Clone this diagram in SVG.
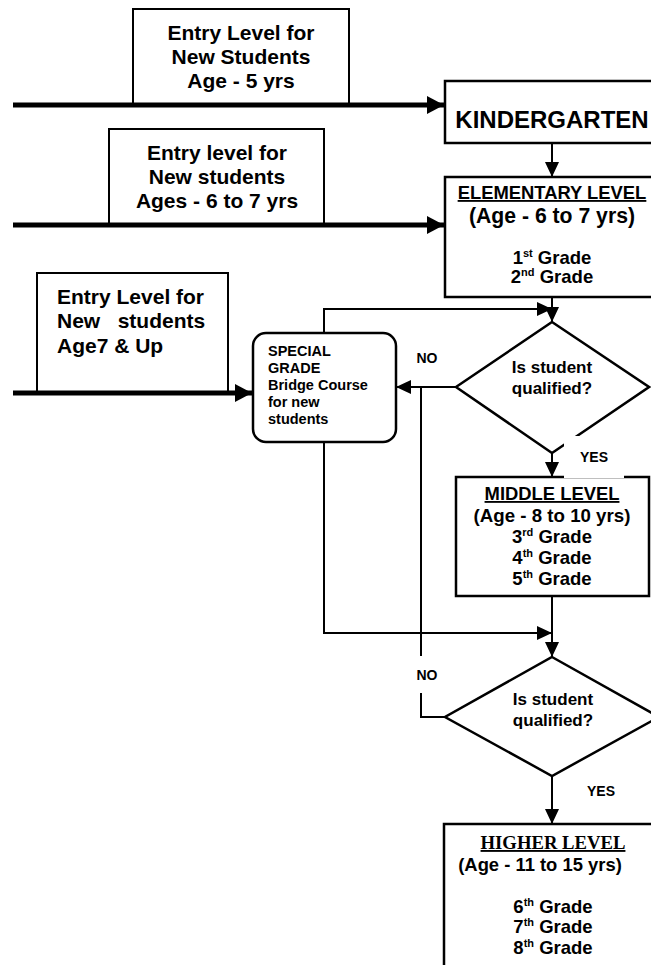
<svg xmlns="http://www.w3.org/2000/svg" width="651" height="965" viewBox="0 0 651 965">
<style>
text{font-family:"Liberation Sans",Arial,sans-serif;font-weight:bold;fill:#000}
.c{text-anchor:middle}
.box{fill:#fff;stroke:#000;stroke-width:2}
.main{fill:#fff;stroke:#000;stroke-width:2.5}
.thick{stroke:#000;stroke-width:5;fill:none}
.thin{stroke:#000;stroke-width:2;fill:none}
.serif{font-family:"Liberation Serif","Times New Roman",serif}
</style>
<defs>
<marker id="ah" markerUnits="userSpaceOnUse" markerWidth="16" markerHeight="14" refX="15" refY="7" orient="auto">
<path d="M0,0 L15,7 L0,14 z" fill="#000"/>
</marker>
<marker id="ahT" markerUnits="userSpaceOnUse" markerWidth="18" markerHeight="18" refX="17" refY="9" orient="auto">
<path d="M0,0 L17,9 L0,18 z" fill="#000"/>
</marker>
</defs>

<g id="entry1">
<rect class="box" x="133" y="9" width="216" height="96"/>
<text class="c" x="241" y="40" font-size="21">Entry Level for</text>
<text class="c" x="241" y="64" font-size="21">New Students</text>
<text class="c" x="241" y="88" font-size="21">Age - 5 yrs</text>
</g>

<g id="entry2">
<rect class="box" x="109" y="129" width="215" height="96"/>
<text class="c" x="217" y="160" font-size="21">Entry level for</text>
<text class="c" x="217" y="184" font-size="21">New students</text>
<text class="c" x="217" y="208" font-size="21">Ages - 6 to 7 yrs</text>
</g>

<g id="entry3">
<rect class="box" x="37" y="273" width="191" height="120"/>
<text x="57" y="304" font-size="21">Entry Level for</text>
<text x="57" y="328" font-size="21" xml:space="preserve" style="white-space:pre">New   students</text>
<text x="57" y="353" font-size="21">Age7 &amp; Up</text>
</g>

<g id="kindergarten">
<rect class="main" x="445" y="81" width="220" height="62"/>
<text class="c" x="552" y="128" font-size="24">KINDERGARTEN</text>
</g>

<g id="elementary">
<rect class="main" x="445" y="177" width="220" height="120"/>
<text class="c" x="552" y="199" font-size="18.4" text-decoration="underline">ELEMENTARY LEVEL</text>
<text class="c" x="552" y="223" font-size="21.2">(Age - 6 to 7 yrs)</text>
<text class="c" x="552" y="264" font-size="18.5">1<tspan dy="-7" font-size="11">st</tspan><tspan dy="7"> Grade</tspan></text>
<text class="c" x="552" y="283" font-size="18.5">2<tspan dy="-7" font-size="11">nd</tspan><tspan dy="7"> Grade</tspan></text>
</g>

<g id="special">
<rect class="main" x="253" y="333" width="143" height="109" rx="13" ry="13" stroke-width="2"/>
<text x="268" y="356" font-size="14.5">SPECIAL</text>
<text x="268" y="373" font-size="14.5">GRADE</text>
<text x="268" y="390" font-size="14.5">Bridge Course</text>
<text x="268" y="407" font-size="14.5">for new</text>
<text x="268" y="424" font-size="14.5">students</text>
</g>

<g id="decision1">
<polygon class="main" points="552,322 649,387 552,453 456,387" stroke-width="2"/>
<text class="c" x="552" y="373" font-size="17">Is student</text>
<text class="c" x="552" y="394" font-size="17">qualified?</text>
</g>

<g id="middle">
<rect class="main" x="456" y="477" width="193" height="119"/>
<text class="c" x="552" y="500" font-size="18.4" text-decoration="underline">MIDDLE LEVEL</text>
<text class="c" x="552" y="522" font-size="18.7">(Age - 8 to 10 yrs)</text>
<text class="c" x="552" y="543" font-size="18.5">3<tspan dy="-7" font-size="11">rd</tspan><tspan dy="7"> Grade</tspan></text>
<text class="c" x="552" y="564" font-size="18.5">4<tspan dy="-7" font-size="11">th</tspan><tspan dy="7"> Grade</tspan></text>
<text class="c" x="552" y="585" font-size="18.5">5<tspan dy="-7" font-size="11">th</tspan><tspan dy="7"> Grade</tspan></text>
</g>

<g id="decision2">
<polygon class="main" points="552,657 659,717 552,776 445,717" stroke-width="2"/>
<text class="c" x="553" y="705" font-size="17">Is student</text>
<text class="c" x="553" y="726" font-size="17">qualified?</text>
</g>

<g id="higher">
<rect class="main" x="444" y="824" width="230" height="160"/>
<text class="c serif" x="553" y="849" font-size="18.7" text-decoration="underline">HIGHER LEVEL</text>
<text class="c" x="540" y="871" font-size="18.4">(Age - 11 to 15 yrs)</text>
<text class="c" x="553" y="913" font-size="18.5">6<tspan dy="-7" font-size="11">th</tspan><tspan dy="7"> Grade</tspan></text>
<text class="c" x="553" y="933" font-size="18.5">7<tspan dy="-7" font-size="11">th</tspan><tspan dy="7"> Grade</tspan></text>
<text class="c" x="553" y="954" font-size="18.5">8<tspan dy="-7" font-size="11">th</tspan><tspan dy="7"> Grade</tspan></text>
</g>

<g id="connectors">
<line class="thick" x1="13" y1="105" x2="444" y2="105" marker-end="url(#ahT)"/>
<line class="thick" x1="13" y1="225" x2="444" y2="225" marker-end="url(#ahT)"/>
<line class="thick" x1="13" y1="393" x2="252" y2="393" marker-end="url(#ahT)"/>
<line class="thin" x1="552" y1="143" x2="552" y2="177" marker-end="url(#ah)"/>
<line class="thin" x1="552" y1="297" x2="552" y2="322" marker-end="url(#ah)"/>
<polyline class="thin" points="324,333 324,309 552,309" marker-end="url(#ah)"/>
<line class="thin" x1="456" y1="387" x2="396" y2="387" marker-end="url(#ah)"/>
<line class="thin" x1="552" y1="453" x2="552" y2="477" marker-end="url(#ah)"/>
<polyline class="thin" points="324,442 324,633 552,633" marker-end="url(#ah)"/>
<line class="thin" x1="552" y1="596" x2="552" y2="657" marker-end="url(#ah)"/>
<line class="thin" x1="421" y1="387" x2="421" y2="656"/>
<polyline class="thin" points="421,693 421,717 445,717"/>
<line class="thin" x1="552" y1="776" x2="552" y2="824" marker-end="url(#ah)"/>
</g>

<g id="labels">
<text class="c" x="427" y="363" font-size="14">NO</text>
<rect x="564" y="436" width="60" height="42" fill="#fff"/>
<text class="c" x="594" y="462" font-size="14">YES</text>
<text class="c" x="427" y="680" font-size="14">NO</text>
<text class="c" x="601" y="796" font-size="14">YES</text>
</g>
</svg>
